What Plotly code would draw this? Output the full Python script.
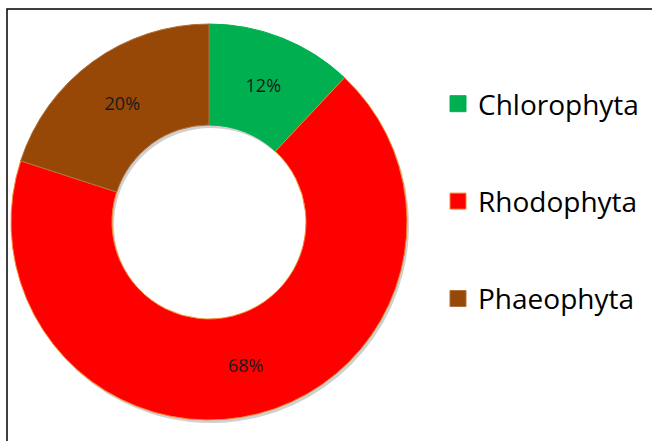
import plotly.graph_objects as go

categories = ["Chlorophyta", "Rhodophyta", "Phaeophyta"]
values = [12, 68, 20]
colors = ["#00B050", "#FF0000", "#974806"]
edge_colors = ["#00B050", "#F4892E", "#B0703A"]

W, H = 652, 441
cx, cy, R = 209, 222, 198

dom_x = [(cx - R) / W, (cx + R) / W]
dom_y = [(H - cy - R) / H, (H - cy + R) / H]

fig = go.Figure()

# soft shadow
sx, sy = 2, 3
fig.add_trace(go.Pie(
    labels=categories, values=values, sort=False, direction="clockwise", rotation=0,
    hole=0.49, marker=dict(colors=["rgba(120,120,120,0.35)"] * 3, line=dict(width=0)),
    textinfo="none", showlegend=False, hoverinfo="skip",
    domain=dict(x=[dom_x[0] + sx / W, dom_x[1] + sx / W], y=[dom_y[0] - sy / H, dom_y[1] - sy / H]),
))

fig.add_trace(go.Pie(
    labels=categories, values=values, sort=False, direction="clockwise", rotation=0,
    hole=0.49, marker=dict(colors=colors, line=dict(color=edge_colors, width=1)),
    texttemplate="%{value}%", textposition="inside", insidetextorientation="horizontal",
    textfont=dict(family="Open Sans, sans-serif", size=18, color="#1a1a1a"),
    showlegend=False, domain=dict(x=dom_x, y=dom_y),
))

for i, cat in enumerate(categories):
    fig.add_trace(go.Scatter(
        x=[None], y=[None], mode="markers", name=cat, legendgroup=cat,
        marker=dict(symbol="square", size=18, color=colors[i], line=dict(color=edge_colors[i], width=1)),
        showlegend=True,
    ))

fig.update_layout(
    width=W, height=H, margin=dict(l=0, r=0, t=0, b=0),
    paper_bgcolor="white", plot_bgcolor="white",
    xaxis=dict(visible=False), yaxis=dict(visible=False),
    legend=dict(x=438 / W, y=1 - 79 / H, xanchor="left", yanchor="top",
                font=dict(family="Open Sans, sans-serif", size=28, color="#000000"),
                tracegroupgap=58, bgcolor="rgba(0,0,0,0)", itemwidth=30),
    shapes=[dict(type="rect", xref="paper", yref="paper",
                 x0=7 / W, x1=1.05, y0=-0.05, y1=1 - 9 / H,
                 line=dict(color="black", width=1.5), fillcolor="rgba(0,0,0,0)", layer="below")],
)

fig.write_html("out.html", config={"displayModeBar": False},
               post_script="document.body.style.margin='0';")
